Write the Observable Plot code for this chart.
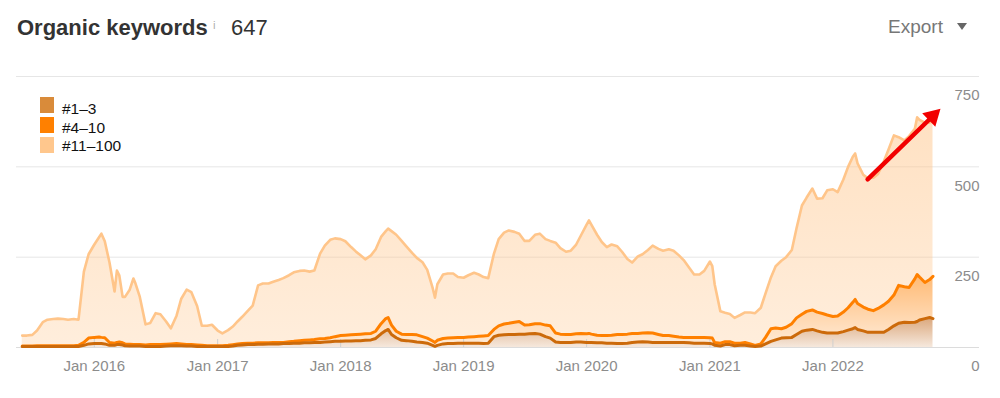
<!DOCTYPE html>
<html><head><meta charset="utf-8">
<script src="https://cdn.jsdelivr.net/npm/d3@7"></script>
<script src="https://cdn.jsdelivr.net/npm/@observablehq/plot@0.6"></script>
<style>
html,body{margin:0;padding:0;background:#fff;}
body{width:1000px;height:398px;position:relative;overflow:hidden;font-family:"Liberation Sans",Arial,sans-serif;}
.abs{position:absolute;white-space:nowrap;}
#chart{position:absolute;left:0;top:60px;}
.sw{position:absolute;width:14px;height:16px;}
.lg{position:absolute;font-family:"Liberation Sans",Arial,sans-serif;font-size:15.5px;line-height:15.5px;color:#111;white-space:nowrap;}
</style></head><body>
<div class="abs" style="left:17px;top:17px;font-size:22px;line-height:22px;font-weight:bold;color:#333">Organic keywords</div>
<div class="abs" style="left:213px;top:20px;font-size:11.5px;line-height:11.5px;color:#b0b0b0">i</div>
<div class="abs" style="left:231px;top:17px;font-size:22px;line-height:22px;color:#333">647</div>
<div class="abs" style="left:888px;top:17px;font-size:19px;line-height:19px;color:#777">Export</div>
<div class="abs" style="left:957px;top:23px;width:0;height:0;border-left:5.5px solid transparent;border-right:5.5px solid transparent;border-top:7px solid #666"></div>
<div id="chart"></div>
<div id="legend"></div>
<script>
// ---- data ----
const dates = [
  "2015-06-01","2015-06-15","2015-07-01","2015-07-15","2015-08-01","2015-08-15","2015-09-01","2015-09-15","2015-10-01","2015-10-15","2015-11-01","2015-11-15","2015-12-01","2015-12-15",
  "2016-01-01","2016-01-15","2016-01-22","2016-02-01","2016-02-15","2016-03-01","2016-03-08","2016-03-15","2016-03-25","2016-04-01","2016-04-15","2016-04-26","2016-05-01","2016-05-15","2016-06-01","2016-06-15","2016-07-01","2016-07-15","2016-08-01","2016-08-15","2016-09-01","2016-09-15","2016-10-01","2016-10-15","2016-11-01","2016-11-15","2016-12-01","2016-12-15",
  "2017-01-01","2017-01-15","2017-02-01","2017-02-15","2017-03-01","2017-03-15","2017-04-01","2017-04-15","2017-05-01","2017-05-15","2017-06-01","2017-06-15","2017-07-01","2017-07-15","2017-08-01","2017-08-15","2017-09-01","2017-09-15","2017-10-01","2017-10-15","2017-11-01","2017-11-15","2017-12-01","2017-12-15",
  "2018-01-01","2018-01-15","2018-02-01","2018-02-15","2018-03-01","2018-03-15","2018-04-01","2018-04-15","2018-05-01","2018-05-15","2018-05-22","2018-06-01","2018-06-15","2018-07-01","2018-07-15","2018-08-01","2018-08-15","2018-09-01","2018-09-15","2018-10-01","2018-10-08","2018-10-15","2018-11-01","2018-11-15","2018-12-01","2018-12-15",
  "2019-01-01","2019-01-15","2019-02-01","2019-02-15","2019-03-01","2019-03-15","2019-04-01","2019-04-15","2019-05-01","2019-05-15","2019-06-01","2019-06-15","2019-07-01","2019-07-15","2019-08-01","2019-08-15","2019-09-01","2019-09-15","2019-10-01","2019-10-15","2019-11-01","2019-11-15","2019-12-01","2019-12-15",
  "2020-01-01","2020-01-08","2020-01-15","2020-02-01","2020-02-15","2020-03-01","2020-03-15","2020-04-01","2020-04-15","2020-05-01","2020-05-15","2020-06-01","2020-06-15","2020-07-01","2020-07-15","2020-08-01","2020-08-15","2020-09-01","2020-09-15","2020-10-01","2020-10-15","2020-11-01","2020-11-15","2020-12-01","2020-12-15",
  "2021-01-01","2021-01-08","2021-01-15","2021-02-01","2021-02-15","2021-03-01","2021-03-15","2021-04-01","2021-04-15","2021-05-01","2021-05-15","2021-06-01","2021-06-15","2021-07-01","2021-07-15","2021-08-01","2021-08-15","2021-09-01","2021-09-15","2021-10-01","2021-10-15","2021-11-01","2021-11-15","2021-12-01","2021-12-15",
  "2022-01-01","2022-01-15","2022-02-01","2022-02-15","2022-03-01","2022-03-08","2022-03-15","2022-04-01","2022-04-15","2022-05-01","2022-05-15","2022-06-01","2022-06-15","2022-07-01","2022-07-15","2022-08-01","2022-08-15","2022-09-01","2022-09-08","2022-09-15","2022-10-01","2022-10-15","2022-10-25"
];
// keywords ranking in positions 1–3
const top3 = [
  3,3,3,3,3,3,3,3,3,3,3,3,6,10,
  11,11,11,10,6,6,8,8,7,5,4,4,4,4,3,3,3,3,4,5,5,5,4,4,3,3,3,3,
  3,3,3,4,6,7,8,8,9,9,10,10,10,11,11,12,12,13,13,14,14,15,16,17,
  17,18,18,19,19,20,21,25,38,47,50,36,27,20,19,17,15,14,12,6,3,6,10,11,11,12,
  12,12,12,12,11,12,30,34,35,36,36,37,37,38,39,37,30,26,15,14,14,14,15,15,
  14,14,14,13,13,12,12,11,11,12,14,15,16,15,14,14,14,14,14,14,14,13,12,12,12,
  11,10,6,4,8,8,5,6,6,4,3,4,10,17,21,26,27,28,36,45,48,50,46,42,40,
  40,40,44,48,52,55,50,46,42,42,42,42,50,60,67,70,69,70,72,76,80,83,80
];
// keywords ranking in positions 1–10
const top10 = [
  4,4,4,5,5,5,5,5,5,5,5,6,14,26,
  28,29,28,27,14,12,14,15,13,10,9,8,8,8,7,8,8,8,9,10,11,10,8,8,7,6,5,5,
  5,5,6,8,10,11,12,12,13,13,13,14,14,14,16,17,19,20,21,22,24,25,27,30,
  33,34,35,36,37,38,39,45,66,80,83,62,45,37,36,36,35,30,26,18,14,20,25,26,27,28,
  28,29,30,31,32,33,50,60,65,67,70,72,62,63,66,66,62,60,40,37,36,36,38,39,
  38,39,37,34,33,33,34,36,36,37,39,39,40,41,40,36,33,33,31,29,28,28,28,28,28,
  27,26,14,12,16,16,12,12,14,10,6,10,28,52,54,52,56,66,82,92,100,104,98,94,90,
  86,87,98,110,125,133,122,112,106,102,108,118,128,145,172,168,166,190,202,195,180,188,197
];
// keywords ranking in positions 1–100
const top100 = [
  33,33,35,47,70,77,79,80,79,77,79,77,210,258,
  285,305,315,294,235,155,213,200,140,140,160,191,180,140,64,68,95,92,72,53,88,135,160,153,115,60,60,63,
  47,39,48,58,72,85,102,116,172,177,177,182,187,192,200,208,212,213,210,213,260,282,298,302,
  300,294,278,266,255,244,255,272,306,322,329,322,312,295,280,262,248,236,215,165,138,175,202,205,205,195,
  193,200,207,202,195,192,260,300,318,324,320,315,295,295,312,315,300,295,290,275,265,268,285,310,
  340,352,340,312,292,278,285,280,265,245,235,252,258,270,282,273,268,272,268,255,242,220,202,202,212,
  238,225,175,100,96,93,82,90,97,97,95,110,150,194,225,240,250,270,330,393,415,440,412,413,435,
  438,430,465,500,528,537,510,478,468,470,480,515,548,587,582,573,585,605,637,630,622,622,640
];
const seriesNames = ["#1–3", "#4–10", "#11–100"];
const legendColors = ["#d98b3a", "#ff8000", "#ffc78d"];
const lineColors = ["#cc6a0a", "#ff8000", "#ffc58a"];
const yTicks = [0, 250, 500, 750];
const yTickLabels = ["0", "250", "500", "750"];
const xTicks = ["2016-01-01","2017-01-01","2018-01-01","2019-01-01","2020-01-01","2021-01-01","2022-01-01"];
const xTickLabels = ["Jan 2016","Jan 2017","Jan 2018","Jan 2019","Jan 2020","Jan 2021","Jan 2022"];
const xDomain = ["2015-05-15", "2023-03-12"];
const arrowFrom = ["2022-04-14", 465];
const arrowTo = ["2022-10-24", 640];

if (!(dates.length === top3.length && dates.length === top10.length && dates.length === top100.length)) {
  throw new Error("length mismatch " + [dates.length, top3.length, top10.length, top100.length].join(","));
}

const rows = dates.map((d, i) => ({date: new Date(d), top3: top3[i], top10: top10[i], top100: top100[i]}));
const xTickDates = xTicks.map(d => new Date(d));

const plot = Plot.plot({
  width: 1000,
  height: 338,
  marginTop: 16,
  marginBottom: 51,
  marginLeft: 16,
  marginRight: 21,
  style: {fontFamily: "'Liberation Sans', Arial, sans-serif", fontSize: "15px", color: "#8c8c8c", background: "transparent", overflow: "visible"},
  x: {type: "utc", domain: xDomain.map(d => new Date(d))},
  y: {domain: [0, 750]},
  marks: [
    Plot.gridY(yTicks, {stroke: "#e6e6e6", strokeOpacity: 1}),
    Plot.areaY(rows, {x: "date", y1: "top10", y2: "top100", fill: "url(#gLight)"}),
    Plot.areaY(rows, {x: "date", y1: "top3", y2: "top10", fill: "url(#gMid)"}),
    Plot.areaY(rows, {x: "date", y1: 0, y2: "top3", fill: "url(#gDark)"}),
    Plot.ruleY([0], {stroke: "#dcdcdc"}),
    Plot.tickX(xTickDates, {x: d => d, stroke: "#cfcfcf", insetTop: 263}),
    Plot.lineY(rows, {x: "date", y: "top100", stroke: lineColors[2], strokeWidth: 2.6, strokeLinejoin: "round"}),
    Plot.lineY(rows, {x: "date", y: "top10", stroke: lineColors[1], strokeWidth: 3, strokeLinejoin: "round"}),
    Plot.lineY(rows, {x: "date", y: "top3", stroke: lineColors[0], strokeWidth: 3, strokeLinejoin: "round"}),
    Plot.axisX(xTickDates, {tickSize: 0, tickPadding: 13,
      tickFormat: d => xTickLabels[xTickDates.findIndex(t => +t === +d)]}),
    Plot.axisY(yTicks, {anchor: "right", tickSize: 0, tickPadding: 0, textAnchor: "end", dy: 19,
      tickFormat: d => yTickLabels[yTicks.indexOf(d)]}),
    Plot.link([{x1: new Date(arrowFrom[0]), y1: arrowFrom[1], x2: new Date(arrowTo[0]), y2: arrowTo[1]}],
      {x1: "x1", y1: "y1", x2: "x2", y2: "y2", stroke: "#f20000", strokeWidth: 4.5, strokeLinecap: "round"}),
    Plot.dot([{x: new Date(arrowTo[0]), y: arrowTo[1]}],
      {x: "x", y: "y", symbol: "triangle", r: 7, fill: "#f20000", stroke: "none", rotate: 46})
  ]
});

d3.select(plot).insert("defs", ":first-child").html(`
  <linearGradient id="gLight" x1="0" y1="0" x2="0" y2="1">
    <stop offset="0" stop-color="#ffc58a" stop-opacity="0.52"/>
    <stop offset="1" stop-color="#ffc58a" stop-opacity="0.3"/>
  </linearGradient>
  <linearGradient id="gMid" x1="0" y1="0" x2="0" y2="1">
    <stop offset="0" stop-color="#ff8000" stop-opacity="0.55"/>
    <stop offset="1" stop-color="#ff8000" stop-opacity="0.15"/>
  </linearGradient>
  <linearGradient id="gDark" x1="0" y1="0" x2="0" y2="1">
    <stop offset="0" stop-color="#c0661a" stop-opacity="0.58"/>
    <stop offset="1" stop-color="#c0661a" stop-opacity="0.15"/>
  </linearGradient>`);

document.getElementById("chart").appendChild(plot);

// legend overlay
const lg = document.getElementById("legend");
const swTop = [97, 117, 136.5];
const txtTop = [100.5, 119.5, 137.5];
seriesNames.forEach((name, i) => {
  const sw = document.createElement("div");
  sw.className = "sw";
  sw.style.left = "40px";
  sw.style.top = swTop[i] + "px";
  sw.style.background = legendColors[i];
  lg.appendChild(sw);
  const t = document.createElement("div");
  t.className = "lg";
  t.style.left = "62px";
  t.style.top = txtTop[i] + "px";
  t.textContent = name;
  lg.appendChild(t);
});
</script>
</body></html>
